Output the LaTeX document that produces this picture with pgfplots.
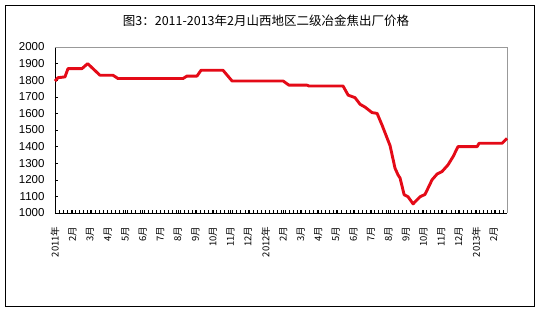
\documentclass[border=0pt]{standalone}
\usepackage{fontspec}
\setmainfont{Liberation Sans}
\newfontfamily\cjk{Noto Sans CJK SC}
\usepackage{pgfplots}
\pgfplotsset{compat=1.18}
\definecolor{linered}{RGB}{228,10,23}

\begin{document}
\begin{tikzpicture}
\begin{axis}[
    scale only axis,
    width=452pt, height=166pt,
    xmin=0, xmax=25.75,
    ymin=1000, ymax=2000,
    axis x line*=bottom,
    axis y line*=left,
    axis line style={-, black, line width=0.8pt},
    tick align=inside,
    ytick={1000,1100,...,2000},
    xtick={0,...,25},
    minor xtick={0,0.2301,...,25.75},
    major tick length=3pt,
    minor tick length=3pt,
    every tick/.style={black, line width=0.6pt},
    xticklabels={2011年,2月,3月,4月,5月,6月,7月,8月,9月,10月,11月,12月,
                 2012年,2月,3月,4月,5月,6月,7月,8月,9月,10月,11月,12月,
                 2013年,2月},
    xticklabel style={font=\cjk\fontsize{9.5}{10}\selectfont, rotate=90, anchor=east, xshift=-10pt},
    yticklabel style={font=\fontsize{11.5}{12}\selectfont, xshift=-7pt},
    /pgf/number format/assume math mode=true,
    /pgf/number format/1000 sep={},
    clip=false,
]
\draw[gray!80, line width=0.6pt] (rel axis cs:0,1) -- (rel axis cs:1,1) -- (rel axis cs:1,0);
\addplot[linered, line width=2.9pt, line join=round] coordinates {
(0,1795) (0.17,1815) (0.57,1820) (0.74,1870) (1.54,1870) (1.86,1900)
(2.56,1830) (3.30,1830) (3.59,1810) (7.29,1810) (7.52,1825) (8.09,1825)
(8.32,1860) (9.57,1860) (10.09,1795) (13.0,1795) (13.33,1770) (14.36,1770)
(14.47,1765) (16.41,1765) (16.70,1710) (17.09,1695) (17.38,1655) (17.66,1638)
(18.06,1605) (18.35,1600) (18.63,1530) (19.09,1405) (19.37,1270) (19.54,1230)
(19.66,1210) (19.89,1110) (20.11,1098) (20.40,1055) (20.80,1098) (21.08,1112)
(21.48,1200) (21.77,1235) (22.05,1250) (22.39,1290) (22.68,1340) (22.96,1400)
(24.05,1400) (24.16,1420) (25.47,1420) (25.75,1450)
};
\end{axis}
\node[font=\cjk\fontsize{12.5}{13}\selectfont] at (211pt,192pt) {图3：2011-2013年2月山西地区二级冶金焦出厂价格};
\draw[black, line width=0.8pt] (-50pt,-93pt) rectangle (479pt,208pt);
\pgfresetboundingbox
\path (-55pt,-95pt) rectangle (483pt,213pt);
\end{tikzpicture}
\end{document}
